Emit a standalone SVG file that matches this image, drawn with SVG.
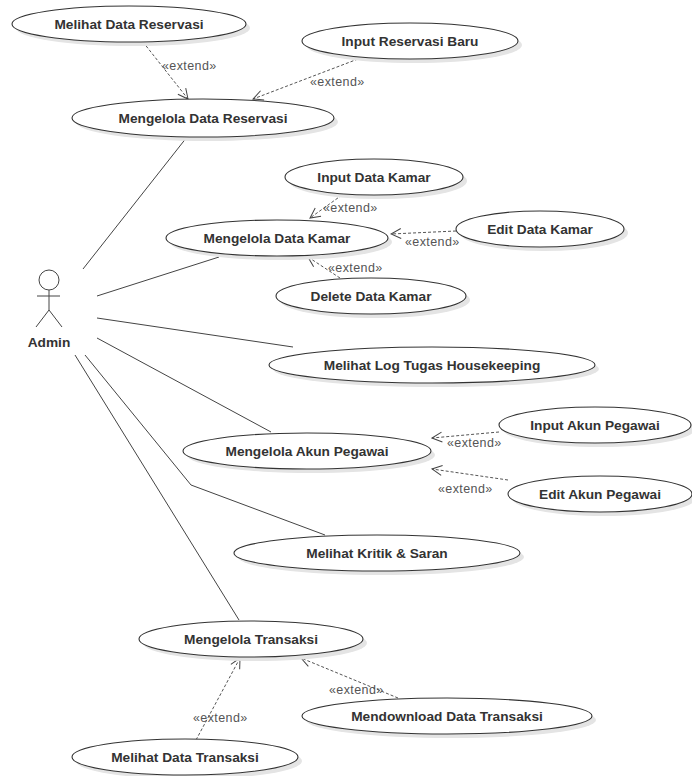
<svg xmlns="http://www.w3.org/2000/svg" width="692" height="776" viewBox="0 0 692 776">
<defs>
<style>
.uc ellipse.s{fill:#e4e4e4;stroke:none}
.uc ellipse.b{fill:#ffffff;stroke:#333;stroke-width:1.1}
.uc text{font-family:"Liberation Sans",Arial,sans-serif;font-weight:bold;font-size:13.7px;fill:#333;text-anchor:middle}
.assoc{stroke:#444;stroke-width:1;fill:none}
.ext{stroke:#555;stroke-width:1;stroke-dasharray:3,2;fill:none;marker-end:url(#arr)}
.lbl{font-family:"Liberation Sans",Arial,sans-serif;font-size:12.5px;letter-spacing:0.4px;fill:#555}
</style>
<marker id="arr" viewBox="0 0 12 12" refX="11" refY="6" markerWidth="12" markerHeight="12" markerUnits="userSpaceOnUse" orient="auto">
<path d="M1,1 L11,6 L1,11" fill="none" stroke="#444" stroke-width="1"/>
</marker>
</defs>
<rect width="692" height="776" fill="#fff"/>

<g id="connectors">
<path class="assoc" d="M83,269 L187,137"/>
<path class="assoc" d="M97,296 L219,257"/>
<path class="assoc" d="M97,318 L293,347"/>
<path class="assoc" d="M97,338 L271,432"/>
<path class="assoc" d="M85,355 L191,485 L325,535"/>
<path class="assoc" d="M75,355 L239,620"/>
<path class="ext" d="M143,42 L188,99"/>
<path class="ext" d="M358,59 L253,99"/>
<path class="ext" d="M342,195 L310,218"/>
<path class="ext" d="M456,231 L391,234"/>
<path class="ext" d="M340,278 L308,257"/>
<path class="ext" d="M499,432 L432,438"/>
<path class="ext" d="M508,480 L432,469"/>
<path class="ext" d="M196,740 L240,658"/>
<path class="ext" d="M398,698 L301,658"/>
<text class="lbl" x="162" y="70">«extend»</text>
<text class="lbl" x="310" y="86">«extend»</text>
<text class="lbl" x="323" y="212">«extend»</text>
<text class="lbl" x="405" y="246">«extend»</text>
<text class="lbl" x="328" y="272">«extend»</text>
<text class="lbl" x="447" y="447">«extend»</text>
<text class="lbl" x="438" y="493">«extend»</text>
<text class="lbl" x="193" y="722">«extend»</text>
<text class="lbl" x="329" y="694">«extend»</text>
</g>

<g id="admin">
<circle cx="49" cy="280" r="10" fill="#fff" stroke="#444"/>
<path d="M49,290 L49,310 M37,296 L60,296 M49,310 L36,327 M49,310 L62,327" stroke="#444" fill="none"/>
<text x="49" y="347" style="font-family:'Liberation Sans',Arial,sans-serif;font-weight:bold;font-size:13.7px;fill:#333;text-anchor:middle">Admin</text>
</g>

<g id="melihat-data-reservasi" class="uc"><ellipse class="s" cx="133" cy="28" rx="117" ry="18"/><ellipse class="b" cx="129" cy="24" rx="117" ry="18"/><text x="129" y="29">Melihat Data Reservasi</text></g>
<g id="input-reservasi-baru" class="uc"><ellipse class="s" cx="414" cy="45" rx="108" ry="18"/><ellipse class="b" cx="410" cy="41" rx="108" ry="18"/><text x="410" y="46">Input Reservasi Baru</text></g>
<g id="mengelola-data-reservasi" class="uc"><ellipse class="s" cx="207" cy="122" rx="131" ry="19"/><ellipse class="b" cx="203" cy="118" rx="131" ry="19"/><text x="203" y="123">Mengelola Data Reservasi</text></g>
<g id="input-data-kamar" class="uc"><ellipse class="s" cx="378" cy="181" rx="89" ry="18"/><ellipse class="b" cx="374" cy="177" rx="89" ry="18"/><text x="374" y="182">Input Data Kamar</text></g>
<g id="mengelola-data-kamar" class="uc"><ellipse class="s" cx="281" cy="242" rx="111" ry="18"/><ellipse class="b" cx="277" cy="238" rx="111" ry="18"/><text x="277" y="243">Mengelola Data Kamar</text></g>
<g id="edit-data-kamar" class="uc"><ellipse class="s" cx="544" cy="233" rx="84" ry="18"/><ellipse class="b" cx="540" cy="229" rx="84" ry="18"/><text x="540" y="234">Edit Data Kamar</text></g>
<g id="delete-data-kamar" class="uc"><ellipse class="s" cx="375" cy="300" rx="95" ry="18"/><ellipse class="b" cx="371" cy="296" rx="95" ry="18"/><text x="371" y="301">Delete Data Kamar</text></g>
<g id="melihat-log" class="uc"><ellipse class="s" cx="436" cy="369" rx="163" ry="18"/><ellipse class="b" cx="432" cy="365" rx="163" ry="18"/><text x="432" y="370">Melihat Log Tugas Housekeeping</text></g>
<g id="mengelola-akun-pegawai" class="uc"><ellipse class="s" cx="311" cy="455" rx="124" ry="18"/><ellipse class="b" cx="307" cy="451" rx="124" ry="18"/><text x="307" y="456">Mengelola Akun Pegawai</text></g>
<g id="input-akun-pegawai" class="uc"><ellipse class="s" cx="599" cy="429" rx="96" ry="18"/><ellipse class="b" cx="595" cy="425" rx="96" ry="18"/><text x="595" y="430">Input Akun Pegawai</text></g>
<g id="edit-akun-pegawai" class="uc"><ellipse class="s" cx="604" cy="498" rx="92" ry="18"/><ellipse class="b" cx="600" cy="494" rx="92" ry="18"/><text x="600" y="499">Edit Akun Pegawai</text></g>
<g id="melihat-kritik" class="uc"><ellipse class="s" cx="381" cy="557" rx="143" ry="18"/><ellipse class="b" cx="377" cy="553" rx="143" ry="18"/><text x="377" y="558">Melihat Kritik &amp; Saran</text></g>
<g id="mengelola-transaksi" class="uc"><ellipse class="s" cx="255" cy="643" rx="112" ry="18"/><ellipse class="b" cx="251" cy="639" rx="112" ry="18"/><text x="251" y="644">Mengelola Transaksi</text></g>
<g id="mendownload-data-transaksi" class="uc"><ellipse class="s" cx="451" cy="720" rx="145" ry="18"/><ellipse class="b" cx="447" cy="716" rx="145" ry="18"/><text x="447" y="721">Mendownload Data Transaksi</text></g>
<g id="melihat-data-transaksi" class="uc"><ellipse class="s" cx="189" cy="761" rx="113" ry="18"/><ellipse class="b" cx="185" cy="757" rx="113" ry="18"/><text x="185" y="762">Melihat Data Transaksi</text></g>
</svg>
